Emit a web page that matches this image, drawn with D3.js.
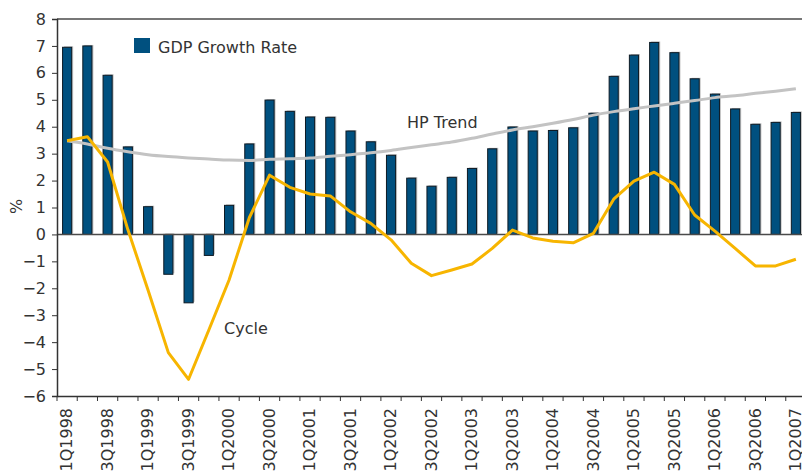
<!DOCTYPE html>
<html>
<head>
<meta charset="utf-8">
<script src="https://cdn.jsdelivr.net/npm/d3@7"></script>
<style>
  body { margin: 0; background: #fff; }
  svg { display: block; font-family: "DejaVu Sans", sans-serif; }
</style>
</head>
<body>
<div id="chart"></div>
<script>
var quarters = [
  "1Q1998","2Q1998","3Q1998","4Q1998",
  "1Q1999","2Q1999","3Q1999","4Q1999",
  "1Q2000","2Q2000","3Q2000","4Q2000",
  "1Q2001","2Q2001","3Q2001","4Q2001",
  "1Q2002","2Q2002","3Q2002","4Q2002",
  "1Q2003","2Q2003","3Q2003","4Q2003",
  "1Q2004","2Q2004","3Q2004","4Q2004",
  "1Q2005","2Q2005","3Q2005","4Q2005",
  "1Q2006","2Q2006","3Q2006","4Q2006",
  "1Q2007"
];

var gdpGrowth = [
  6.95, 7.0, 5.91, 3.25,
  1.03, -1.48, -2.54, -0.78,
  1.08, 3.36, 4.99, 4.57,
  4.36, 4.35, 3.84, 3.44,
  2.94, 2.09, 1.79, 2.12,
  2.45, 3.18, 3.99, 3.84,
  3.86, 3.96, 4.50, 5.87,
  6.66, 7.13, 6.75, 5.78,
  5.21, 4.66, 4.09, 4.16,
  4.53
];

var hpTrend = [
  3.48, 3.36, 3.20, 3.07,
  2.96, 2.89, 2.84, 2.80,
  2.76, 2.75, 2.79, 2.81,
  2.84, 2.90, 2.96, 3.03,
  3.12, 3.23, 3.33, 3.43,
  3.57, 3.73, 3.88, 4.00,
  4.13, 4.27, 4.43, 4.56,
  4.67, 4.77, 4.87, 4.97,
  5.08, 5.15, 5.24, 5.32,
  5.41
];

var cycle = [
  3.48, 3.63, 2.69, 0.18,
  -2.07, -4.39, -5.38, -3.55,
  -1.69, 0.62, 2.20, 1.75,
  1.50, 1.43, 0.84, 0.41,
  -0.20, -1.07, -1.53, -1.32,
  -1.10, -0.52, 0.16, -0.13,
  -0.25, -0.31, 0.04, 1.31,
  1.98, 2.31, 1.86, 0.72,
  0.12, -0.52, -1.17, -1.17,
  -0.92
];

var yTicks = [8, 7, 6, 5, 4, 3, 2, 1, 0, -1, -2, -3, -4, -5, -6];

var margin = {top: 19, left: 57},
    width = 749,
    height = 377;

var svg = d3.select("#chart")
  .append("svg")
    .attr("width", 802)
    .attr("height", 471)
  .append("g")
    .attr("transform", "translate(" + margin.left + "," + margin.top + ")");

var x = d3.scaleBand()
  .domain(quarters)
  .range([0, width]);

var y = d3.scaleLinear()
  .domain([-6, 8])
  .range([height, 0]);

var barW = x.bandwidth() * 0.45;

// top border
svg.append("line")
  .attr("x1", 0).attr("x2", 802)
  .attr("y1", 0).attr("y2", 0)
  .attr("stroke", "#4a4a4a")
  .attr("stroke-width", 1.5);

// bar shadows
svg.selectAll(".shadow")
  .data(gdpGrowth)
  .enter()
  .append("rect")
    .attr("class", "shadow")
    .attr("x", function (d, i) { return x(quarters[i]) + (x.bandwidth() - barW) / 2 + 1.5; })
    .attr("y", function (d) { return Math.min(y(d), y(0)) - 1; })
    .attr("width", barW)
    .attr("height", function (d) { return Math.abs(y(d) - y(0)); })
    .attr("fill", "#c4c4c4");

// bars
svg.selectAll(".bar")
  .data(gdpGrowth)
  .enter()
  .append("rect")
    .attr("class", "bar")
    .attr("x", function (d, i) { return x(quarters[i]) + (x.bandwidth() - barW) / 2; })
    .attr("y", function (d) { return Math.min(y(d), y(0)); })
    .attr("width", barW)
    .attr("height", function (d) { return Math.abs(y(d) - y(0)); })
    .attr("fill", "#00507f")
    .attr("stroke", "#0d1a24")
    .attr("stroke-width", 1);

// zero line
svg.append("line")
  .attr("x1", 0).attr("x2", 802)
  .attr("y1", y(0)).attr("y2", y(0))
  .attr("stroke", "#4a4a4a")
  .attr("stroke-width", 1.5);

// HP trend
svg.append("path")
  .datum(hpTrend)
  .attr("fill", "none")
  .attr("stroke", "#c3c3c3")
  .attr("stroke-width", 3)
  .attr("d", d3.line()
    .x(function (d, i) { return x(quarters[i]) + x.bandwidth() / 2; })
    .y(function (d) { return y(d); })
    .curve(d3.curveMonotoneX));

// cycle
svg.append("path")
  .datum(cycle)
  .attr("fill", "none")
  .attr("stroke", "#f7b500")
  .attr("stroke-width", 3)
  .attr("stroke-linejoin", "round")
  .attr("d", d3.line()
    .x(function (d, i) { return x(quarters[i]) + x.bandwidth() / 2; })
    .y(function (d) { return y(d); }));

// Y axis
var yAxis = svg.append("g")
  .call(d3.axisLeft(y).tickValues(yTicks).tickSize(5).tickPadding(6).tickFormat(d3.format("d")));
yAxis.select(".domain").attr("stroke", "#333").attr("stroke-width", 1.5);
yAxis.selectAll(".tick line").attr("stroke", "#333");
yAxis.selectAll("text")
  .attr("font-size", 16)
  .attr("font-family", "DejaVu Sans")
  .attr("fill", "#333");

// X axis: labels every other quarter
var xAxis = svg.append("g")
  .attr("transform", "translate(0," + height + ")")
  .call(d3.axisBottom(x)
    .tickValues(quarters.filter(function (d, i) { return i % 2 == 0; }))
    .tickSize(0));
xAxis.select(".domain").attr("stroke", "#333").attr("stroke-width", 1.5);
xAxis.selectAll("text")
  .attr("font-size", 16)
  .attr("font-family", "DejaVu Sans")
  .attr("fill", "#333")
  .attr("transform", "rotate(-90)")
  .attr("x", -12)
  .attr("y", 0)
  .attr("dy", "0.33em")
  .style("text-anchor", "end");

// boundary ticks
svg.selectAll(".qtick")
  .data(quarters)
  .enter()
  .append("line")
    .attr("class", "qtick")
    .attr("x1", function (d) { return x(d); })
    .attr("x2", function (d) { return x(d); })
    .attr("y1", height)
    .attr("y2", height + 5)
    .attr("stroke", "#333");

// text label for the y axis
svg.append("text")
  .attr("transform", "rotate(-90)")
  .attr("x", -height / 2 + 1)
  .attr("y", -margin.left + 22)
  .style("text-anchor", "middle")
  .attr("font-size", 16)
  .attr("fill", "#333")
  .text("%");

// legend
svg.append("rect")
  .attr("x", 134 - margin.left)
  .attr("y", 38 - margin.top)
  .attr("width", 16)
  .attr("height", 15)
  .attr("fill", "#00507f");
svg.append("text")
  .attr("x", 158 - margin.left)
  .attr("y", 53 - margin.top)
  .attr("font-size", 16)
  .attr("fill", "#333")
  .text("GDP Growth Rate");

// series labels
svg.append("text")
  .attr("x", 407 - margin.left)
  .attr("y", 128 - margin.top)
  .attr("font-size", 16)
  .attr("fill", "#333")
  .text("HP Trend");

svg.append("text")
  .attr("x", 224 - margin.left)
  .attr("y", 334 - margin.top)
  .attr("font-size", 16)
  .attr("fill", "#333")
  .text("Cycle");
</script>
</body>
</html>
